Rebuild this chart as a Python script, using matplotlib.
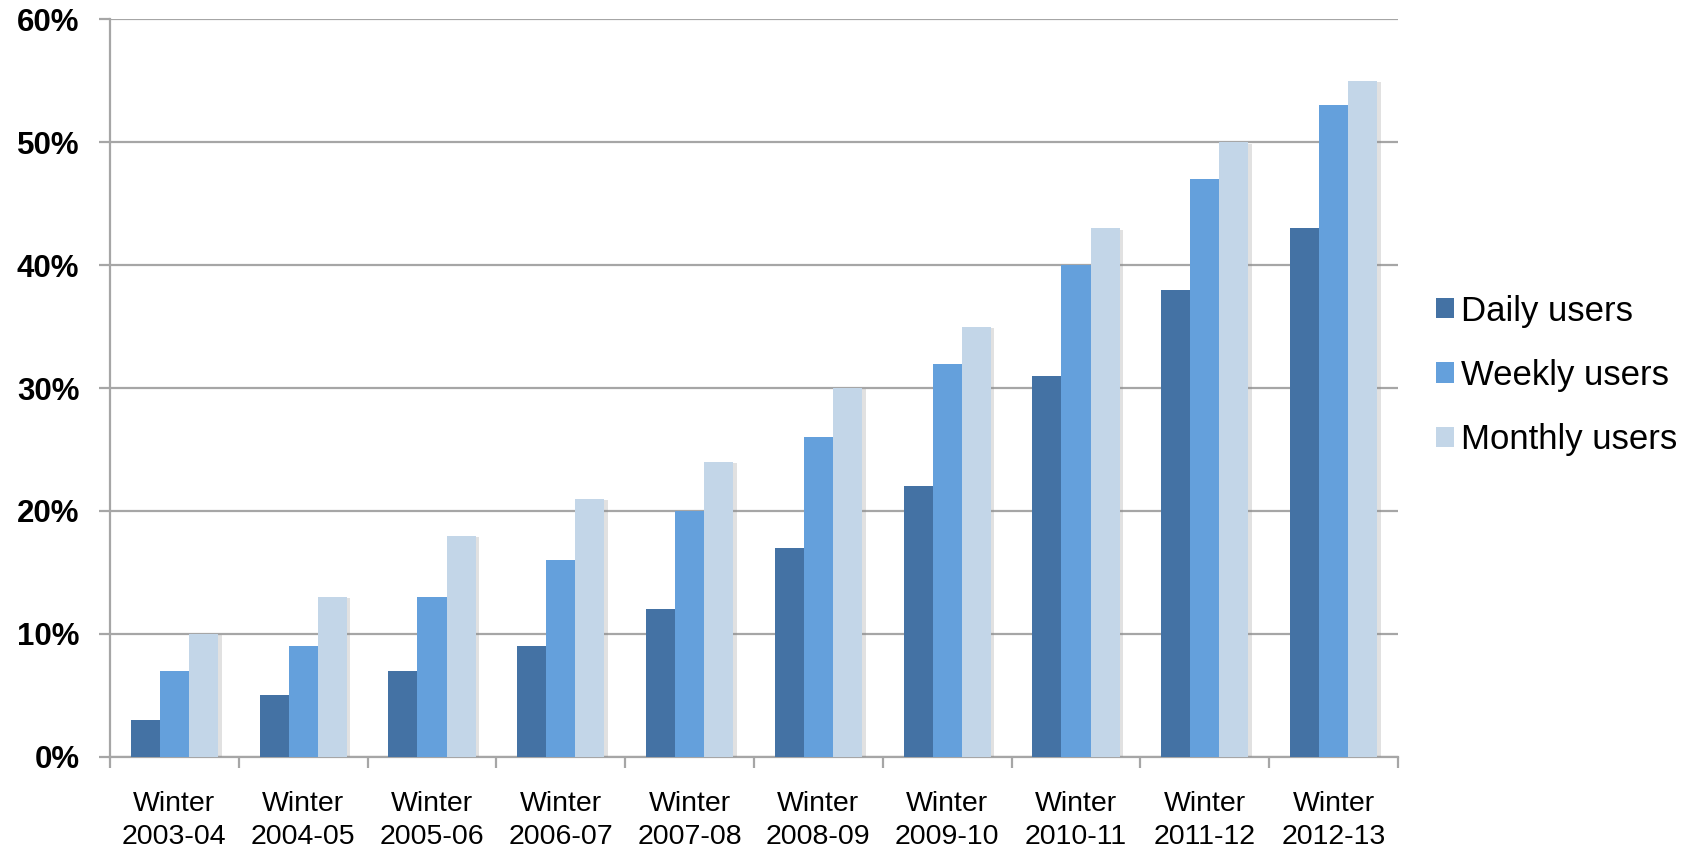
import matplotlib
matplotlib.use("Agg")
import matplotlib.pyplot as plt
import matplotlib.patheffects as pe
import numpy as np

# Share of users by season
seasons = ["2003-04", "2004-05", "2005-06", "2006-07", "2007-08",
           "2008-09", "2009-10", "2010-11", "2011-12", "2012-13"]
daily = [3, 5, 7, 9, 12, 17, 22, 31, 38, 43]
weekly = [7, 9, 13, 16, 20, 26, 32, 40, 47, 53]
monthly = [10, 13, 18, 21, 24, 30, 35, 43, 50, 55]
series_names = ["Daily users", "Weekly users", "Monthly users"]

colors = ["#4472a4", "#64a0dc", "#c3d6e8"]
grid_color = "#a6a6a6"

plt.rcParams["font.family"] = ["Liberation Sans", "DejaVu Sans"]

fig = plt.figure(figsize=(16.9, 8.49), dpi=100)
ax = fig.add_axes([0.0651, 0.1087, 0.7621, 0.8684])

x = np.arange(len(seasons))
width = 0.226
shadow = [pe.SimplePatchShadow(offset=(2.5, -1), shadow_rgbFace="#888888", alpha=0.25),
          pe.Normal()]

for i, (vals, name, col) in enumerate(zip([daily, weekly, monthly], series_names, colors)):
    bars = ax.bar(x + (i - 1) * width, vals, width, color=col, label=name, zorder=3)
    for b in bars:
        b.set_path_effects(shadow)

ax.set_xlim(-0.5, len(seasons) - 0.5)
ax.set_ylim(0, 60)

# horizontal gridlines
ax.set_yticks(np.arange(0, 61, 10))
ax.set_yticklabels([f"{v}%" for v in range(0, 61, 10)], fontsize=22.5, fontweight="bold")
ax.yaxis.grid(True, color=grid_color, linewidth=1.6, zorder=0)
ax.tick_params(axis="y", length=8, width=1.6, color=grid_color, pad=14)

# category boundaries get the tick marks, labels sit at the centres
ax.set_xticks(np.arange(-0.5, len(seasons), 1.0))
ax.set_xticklabels([])
ax.tick_params(axis="x", which="major", length=8, width=1.6, color=grid_color)
ax.set_xticks(x, minor=True)
ax.set_xticklabels([f"Winter\n{s}" for s in seasons], minor=True, fontsize=20.5,
                   linespacing=1.35)
ax.tick_params(axis="x", which="minor", length=0, pad=25)

for s in ["top", "right"]:
    ax.spines[s].set_visible(False)
for s in ["left", "bottom"]:
    ax.spines[s].set_color(grid_color)
    ax.spines[s].set_linewidth(1.6)

leg = fig.legend(loc="center left", bbox_to_anchor=(0.8395, 0.558), frameon=False,
                 fontsize=25, handlelength=0.52, handleheight=0.52,
                 handletextpad=0.2, labelspacing=0.9, borderpad=0)
for h in leg.legend_handles:
    h.set_path_effects([])

fig.savefig("out.png", dpi=100)
